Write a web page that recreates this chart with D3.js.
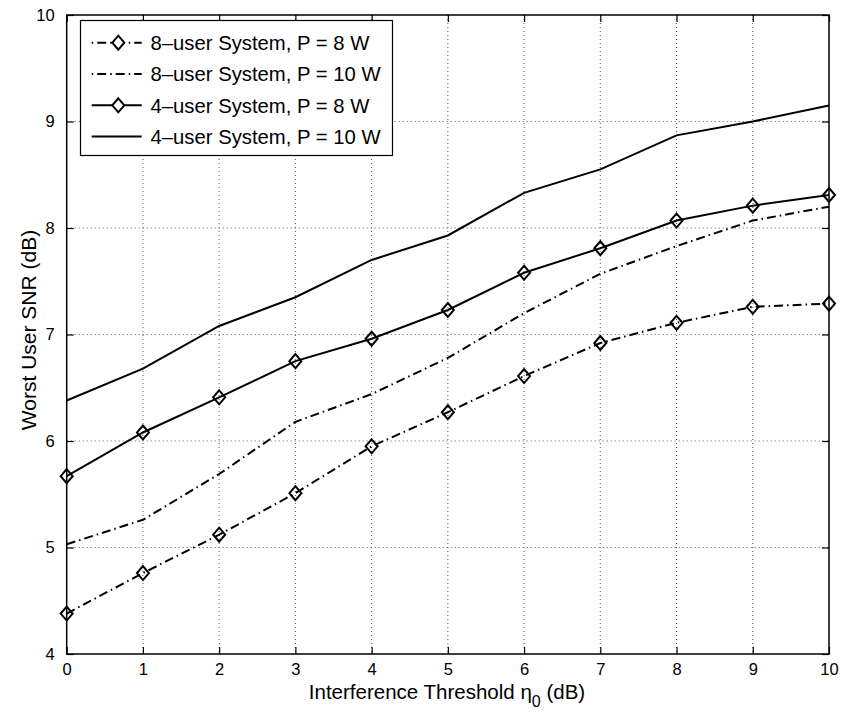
<!DOCTYPE html>
<html><head><meta charset="utf-8">
<script src="https://cdn.jsdelivr.net/npm/d3@7"></script>
<style>body{margin:0;background:#fff}svg{display:block;font-family:"Liberation Sans",Arial,sans-serif}</style>
</head><body>
<svg id="c" width="843" height="716"></svg>
<script>
const xValues = [0,1,2,3,4,5,6,7,8,9,10];
const user8P8  = [4.38,4.76,5.12,5.51,5.95,6.27,6.61,6.92,7.11,7.26,7.29];
const user8P10 = [5.03,5.26,5.69,6.18,6.44,6.78,7.20,7.57,7.83,8.07,8.20];
const user4P8  = [5.67,6.08,6.41,6.75,6.96,7.23,7.58,7.81,8.07,8.21,8.31];
const user4P10 = [6.38,6.68,7.08,7.35,7.70,7.93,8.33,8.55,8.87,9.00,9.15];
const seriesNames = ["8\u2013user System, P = 8 W","8\u2013user System, P = 10 W","4\u2013user System, P = 8 W","4\u2013user System, P = 10 W"];
const xTicks = [0,1,2,3,4,5,6,7,8,9,10];
const yTicks = [4,5,6,7,8,9,10];

const series = [
  {name: seriesNames[0], values: user8P8,  dash: "9,4,1.5,4", marker: true},
  {name: seriesNames[1], values: user8P10, dash: "9,4,1.5,4", marker: false},
  {name: seriesNames[2], values: user4P8,  dash: null, marker: true},
  {name: seriesNames[3], values: user4P10, dash: null, marker: false}
];

const svg = d3.select("#c");
const L = 66.7, R = 829, T = 15, B = 654;
const x = d3.scaleLinear().domain([0,10]).range([L,R]);
const y = d3.scaleLinear().domain([4,10]).range([B,T]);

// grid
const g = svg.append("g");
g.selectAll(".vg").data(xTicks.slice(1,-1)).enter().append("line")
  .attr("x1",d=>x(d)).attr("x2",d=>x(d)).attr("y1",T).attr("y2",B)
  .attr("stroke","#555").attr("stroke-width",1).attr("stroke-dasharray","1,3");
g.selectAll(".hg").data(yTicks.slice(1,-1)).enter().append("line")
  .attr("x1",L).attr("x2",R).attr("y1",d=>y(d)).attr("y2",d=>y(d))
  .attr("stroke","#555").attr("stroke-width",1).attr("stroke-dasharray","1,3");

// axes
const fs = 16.5;
const xAxis = d3.axisBottom(x).tickValues(xTicks).tickSize(-7).tickPadding(9).tickFormat(d3.format("d"));
const xAxisTop = d3.axisTop(x).tickValues(xTicks).tickSize(-7).tickFormat("");
const yAxis = d3.axisLeft(y).tickValues(yTicks).tickSize(-7).tickPadding(12).tickFormat(d3.format("d"));
const yAxisR = d3.axisRight(y).tickValues(yTicks).tickSize(-7).tickFormat("");
function styleAxis(sel){
  sel.select(".domain").remove();
  sel.selectAll(".tick line").attr("stroke","#000").attr("stroke-width",1.2);
  sel.selectAll(".tick text").attr("fill","#000").style("font-size",fs+"px").style("font-family",'"Liberation Sans",Arial,sans-serif');
}
svg.append("g").attr("transform",`translate(0,${B})`).call(xAxis).call(styleAxis);
svg.append("g").attr("transform",`translate(0,${T})`).call(xAxisTop).call(styleAxis);
svg.append("g").attr("transform",`translate(${L},0)`).call(yAxis).call(styleAxis);
svg.append("g").attr("transform",`translate(${R},0)`).call(yAxisR).call(styleAxis);

svg.append("rect").attr("x",L).attr("y",T).attr("width",R-L).attr("height",B-T)
  .attr("fill","none").attr("stroke","#000").attr("stroke-width",1.5);

// lines
const line = d3.line().x((d,i)=>x(xValues[i])).y(d=>y(d));
const diamond = (cx,cy)=>`M${cx},${cy-7}L${cx+6},${cy}L${cx},${cy+7}L${cx-6},${cy}Z`;
series.forEach(s=>{
  svg.append("path").datum(s.values).attr("d",line).attr("fill","none")
    .attr("stroke","#000").attr("stroke-width",2)
    .attr("stroke-dasharray",s.dash);
  if(s.marker){
    svg.append("g").selectAll("path").data(s.values).enter().append("path")
      .attr("d",(d,i)=>diamond(x(xValues[i]),y(d)))
      .attr("fill","none").attr("stroke","#000").attr("stroke-width",2);
  }
});

// legend
const lg = svg.append("g");
lg.append("rect").attr("x",80.5).attr("y",20.5).attr("width",312).attr("height",135)
  .attr("fill","#fff").attr("stroke","#000").attr("stroke-width",1.2);
series.forEach((s,i)=>{
  const cy = 42.7 + i*31.3;
  lg.append("line").attr("x1",91.7).attr("x2",141.7).attr("y1",cy).attr("y2",cy)
    .attr("stroke","#000").attr("stroke-width",2)
    .attr("stroke-dasharray", s.dash ? "1.5,4,9,4" : null);
  if(s.marker){
    lg.append("path").attr("d",diamond(118.3,cy)).attr("fill","#fff").attr("stroke","#000").attr("stroke-width",2);
  }
  lg.append("text").attr("x",150.5).attr("y",cy).attr("dy","0.36em")
    .style("font-size","20.3px").attr("fill","#000").text(s.name);
});

// axis labels
const xl = svg.append("text").attr("x",447).attr("y",699).attr("text-anchor","middle")
  .style("font-size","20.5px").attr("fill","#000");
xl.append("tspan").text("Interference Threshold ");
xl.append("tspan").text("\u03B7");
xl.append("tspan").attr("dy",8).style("font-size","16px").text("0");
xl.append("tspan").attr("dy",-8).text(" (dB)");

svg.append("text").attr("transform","translate(36,330) rotate(-90)").attr("text-anchor","middle")
  .style("font-size","21px").attr("fill","#000").text("Worst User SNR (dB)");
</script>
</body></html>
